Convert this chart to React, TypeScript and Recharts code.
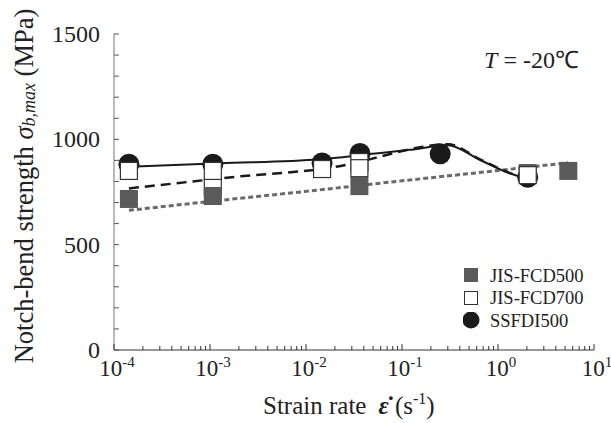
import React from 'react'
import { ComposedChart, Line, Scatter, XAxis, YAxis, Legend, Customized } from 'recharts'

// measured points (strain rate in 1/s, strength in MPa)
const fcd500 = [
  { x: 1.43e-4, y: 717 },
  { x: 1.07e-3, y: 731 },
  { x: 3.6e-2, y: 778 },
  { x: 2.04, y: 840 },
  { x: 5.4, y: 850 },
]
const fcd700 = [
  { x: 1.43e-4, y: 850 },
  { x: 1.07e-3, y: 850 },
  { x: 1.47e-2, y: 859 },
  { x: 3.6e-2, y: 892 },
  { x: 3.6e-2, y: 863 },
  { x: 2.04, y: 830 },
]
// second FCD700 specimen at 1e-3, mostly hidden behind the FCD500 square
const fcd700Repeat = [{ x: 1.07e-3, y: 771 }]
const ssfdi500 = [
  { x: 1.43e-4, y: 882 },
  { x: 1.07e-3, y: 882 },
  { x: 1.47e-2, y: 888 },
  { x: 3.65e-2, y: 933 },
  { x: 0.25, y: 931 },
  { x: 2.04, y: 820 },
]

// fitted curves
const fitFcd500 = [
  { x: 1.43e-4, y: 663 },
  { x: 1e-3, y: 705 },
  { x: 1e-2, y: 753 },
  { x: 0.1, y: 803 },
  { x: 1, y: 852 },
  { x: 5.4, y: 889 },
]
const fitFcd700 = [
  { x: 1.43e-4, y: 767 },
  { x: 1.5e-3, y: 818 },
  { x: 3.1e-2, y: 886 },
  { x: 4.6e-2, y: 905 },
  { x: 0.154, y: 962 },
  { x: 0.3, y: 977 },
  { x: 0.65, y: 905 },
  { x: 1.3, y: 842 },
  { x: 1.9, y: 816 },
]
const fitSsfdi = [
  { x: 1.43e-4, y: 870 },
  { x: 1.27e-3, y: 886 },
  { x: 1.4e-2, y: 905 },
  { x: 4.6e-2, y: 930 },
  { x: 0.12, y: 950 },
  { x: 0.3, y: 972 },
  { x: 0.65, y: 902 },
  { x: 1.3, y: 840 },
  { x: 1.9, y: 816 },
]

const xMajor = [1e-4, 1e-3, 1e-2, 1e-1, 1, 10]
const xExp = ['-4', '-3', '-2', '-1', '0', '1']
const yTicks = [0, 100, 200, 300, 400, 500, 600, 700, 800, 900, 1000, 1100, 1200, 1300, 1400, 1500]
const yLabels = [0, 500, 1000, 1500]

const xTicks: number[] = []
xMajor.forEach((d, i) => {
  xTicks.push(d)
  if (i < xMajor.length - 1) for (let m = 2; m <= 9; m++) xTicks.push(d * m)
})

const FONT = '"Liberation Serif", "Times New Roman", serif'
const GREY = '#5a5a5a'
const INK = '#1a1a1a'

const XTick = (props: any) => {
  const { x, y, payload } = props
  const i = xMajor.findIndex(v => Math.abs(v - payload.value) / v < 1e-6)
  const major = i >= 0
  return (
    <g>
      <line x1={x} x2={x} y1={y} y2={y - (major ? 6 : 4)} stroke="#333" strokeWidth={1} />
      {major && (
        <text x={x + 3} y={y + 26} textAnchor="middle" style={{ fontFamily: FONT }} fontSize={23} fill="#222">
          10<tspan dy={-9} fontSize={15}>{xExp[i]}</tspan>
        </text>
      )}
    </g>
  )
}

const YTick = (props: any) => {
  const { x, y, payload } = props
  return (
    <g>
      <line x1={x} x2={x + 5} y1={y} y2={y} stroke="#555" strokeWidth={1} />
      {yLabels.includes(payload.value) && (
        <text x={x - 14} y={y + 8} textAnchor="end" style={{ fontFamily: FONT }} fontSize={24} fill="#222">
          {payload.value}
        </text>
      )}
    </g>
  )
}

const GreySquare = (props: any) => (
  <rect x={props.cx - 9} y={props.cy - 9} width={18} height={18} fill={GREY} />
)
const WhiteSquare = (props: any) => (
  <rect x={props.cx - 8.5} y={props.cy - 8.5} width={17} height={17} fill="#fff" stroke="#333" strokeWidth={1.2} />
)
const Dot = (props: any) => <circle cx={props.cx} cy={props.cy} r={10.5} fill={INK} />

const LegendBox = () => {
  const rows = [
    { name: 'JIS-FCD500', icon: <rect x={1} y={1} width={14} height={14} fill={GREY} /> },
    { name: 'JIS-FCD700', icon: <rect x={1.5} y={1.5} width={13} height={13} fill="#fff" stroke="#333" /> },
    { name: 'SSFDI500', icon: <circle cx={8} cy={8} r={8.5} fill={INK} /> },
  ]
  return (
    <div style={{ fontFamily: FONT, fontSize: 18.5, color: '#222' }}>
      {rows.map(r => (
        <div key={r.name} style={{ display: 'flex', alignItems: 'center', height: 22.5 }}>
          <svg width={18} height={18} style={{ marginRight: 9 }}>{r.icon}</svg>
          {r.name}
        </div>
      ))}
    </div>
  )
}

const YLabel = () => (
  <text
    x={24}
    y={186}
    transform="rotate(-90 24 186)"
    textAnchor="middle"
    dominantBaseline="central"
    style={{ fontFamily: FONT }}
    fontSize={26.5}
    fill="#222"
  >
    Notch-bend strength <tspan fontStyle="italic">σ</tspan>
    <tspan fontStyle="italic" fontSize={18} dy={5}>b,max</tspan>
    <tspan dy={-5}> (MPa)</tspan>
  </text>
)

const Annotations = () => (
  <g style={{ fontFamily: FONT }} fill="#222">
    <text x={579} y={68} textAnchor="end" fontSize={24}>
      <tspan fontStyle="italic">T</tspan> = -20℃
    </text>
    <text x={263} y={414} textAnchor="start" fontSize={25}>
      Strain rate<tspan dx={12} fontStyle="italic" fontWeight="bold">ε̇</tspan> (s
      <tspan dy={-10} fontSize={16}>-1</tspan>
      <tspan dy={10}>)</tspan>
    </text>
  </g>
)

export default function App() {
  return (
    <div style={{ position: 'absolute', left: 0, top: 0, background: '#fff' }}>
      <ComposedChart width={611} height={423} margin={{ top: 34, right: 17, bottom: 23, left: 0 }}>
        <XAxis
          xAxisId="b"
          dataKey="x"
          type="number"
          scale="log"
          domain={[1e-4, 10]}
          allowDataOverflow
          ticks={xTicks}
          interval={0}
          tickSize={0}
          tickMargin={0}
          tickLine={false}
          tick={<XTick />}
          height={50}
          stroke="#333"
        />
        <XAxis xAxisId="t" orientation="top" type="number" domain={[0, 1]} tick={false} tickLine={false} height={0} stroke="#333" />
        <YAxis
          yAxisId="l"
          type="number"
          domain={[0, 1500]}
          ticks={yTicks}
          interval={0}
          tickSize={0}
          tickMargin={0}
          tickLine={false}
          tick={<YTick />}
          width={114}
          stroke="#777"
        />
        <YAxis yAxisId="r" orientation="right" type="number" domain={[0, 1]} tick={false} tickLine={false} width={0} stroke="#333" />

        <Line xAxisId="b" yAxisId="l" data={fitFcd500} dataKey="y" type="monotone" stroke="#6a6a6a" strokeWidth={3} strokeDasharray="5 3" dot={false} isAnimationActive={false} legendType="none" />
        <Line xAxisId="b" yAxisId="l" data={fitFcd700} dataKey="y" type="monotone" stroke={INK} strokeWidth={2.5} strokeDasharray="10 6" dot={false} isAnimationActive={false} legendType="none" />
        <Line xAxisId="b" yAxisId="l" data={fitSsfdi} dataKey="y" type="monotone" stroke={INK} strokeWidth={2} dot={false} isAnimationActive={false} legendType="none" />

        <Scatter xAxisId="b" yAxisId="l" name="SSFDI500" data={ssfdi500} dataKey="y" shape={<Dot />} isAnimationActive={false} />
        <Scatter xAxisId="b" yAxisId="l" data={fcd700Repeat} dataKey="y" shape={<WhiteSquare />} isAnimationActive={false} legendType="none" />
        <Scatter xAxisId="b" yAxisId="l" name="JIS-FCD500" data={fcd500} dataKey="y" shape={<GreySquare />} isAnimationActive={false} />
        <Scatter xAxisId="b" yAxisId="l" name="JIS-FCD700" data={fcd700} dataKey="y" shape={<WhiteSquare />} isAnimationActive={false} />

        <Legend
          layout="vertical"
          align="center"
          verticalAlign="middle"
          content={<LegendBox />}
          wrapperStyle={{ top: 265, left: 463, width: 'auto' }}
        />
        <Customized component={<YLabel />} />
        <Customized component={<Annotations />} />
      </ComposedChart>
    </div>
  )
}
